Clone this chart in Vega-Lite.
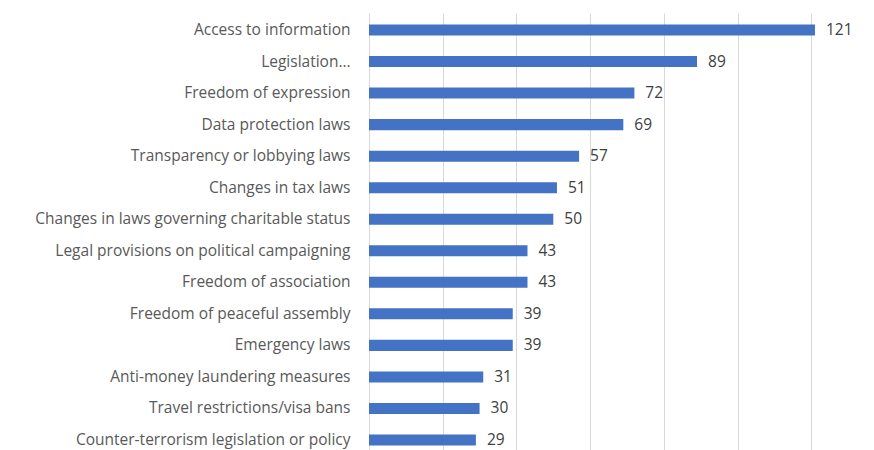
{
  "$schema": "https://vega.github.io/schema/vega-lite/v6.json",
  "autosize": {"type": "none"},
  "padding": {"left": 369, "top": 13, "right": 0, "bottom": 0},
  "width": 516,
  "height": 444,
  "background": "white",
  "data": {"values": [
    {"category": "Access to information", "count": 121},
    {"category": "Legislation…", "count": 89},
    {"category": "Freedom of expression", "count": 72},
    {"category": "Data protection laws", "count": 69},
    {"category": "Transparency or lobbying laws", "count": 57},
    {"category": "Changes in tax laws", "count": 51},
    {"category": "Changes in laws governing charitable status", "count": 50},
    {"category": "Legal provisions on political campaigning", "count": 43},
    {"category": "Freedom of association", "count": 43},
    {"category": "Freedom of peaceful assembly", "count": 39},
    {"category": "Emergency laws", "count": 39},
    {"category": "Anti-money laundering measures", "count": 31},
    {"category": "Travel restrictions/visa bans", "count": 30},
    {"category": "Counter-terrorism legislation or policy", "count": 29}
  ]},
  "encoding": {
    "y": {
      "field": "category", "type": "nominal", "sort": null,
      "scale": {"paddingInner": 0.65, "paddingOuter": 0.365},
      "axis": {
        "title": null, "ticks": false, "domain": true, "domainColor": "#d9d9d9",
        "labelPadding": 19, "labelFont": "Open Sans", "labelFontSize": 15.5,
        "labelColor": "#595959", "labelLimit": 400
      }
    },
    "x": {
      "field": "count", "type": "quantitative",
      "scale": {"domain": [0, 140], "nice": false},
      "axis": {
        "title": null, "labels": false, "ticks": false, "domain": false,
        "values": [0, 20, 40, 60, 80, 100, 120, 140],
        "grid": true, "gridColor": "#d9d9d9", "gridWidth": 1
      }
    }
  },
  "layer": [
    {"mark": {"type": "bar", "color": "#4472C4"}},
    {
      "mark": {"type": "text", "align": "left", "dx": 11, "font": "Open Sans", "fontSize": 15.5, "color": "#404040"},
      "encoding": {"text": {"field": "count", "type": "quantitative"}}
    }
  ],
  "config": {"view": {"stroke": null}}
}
